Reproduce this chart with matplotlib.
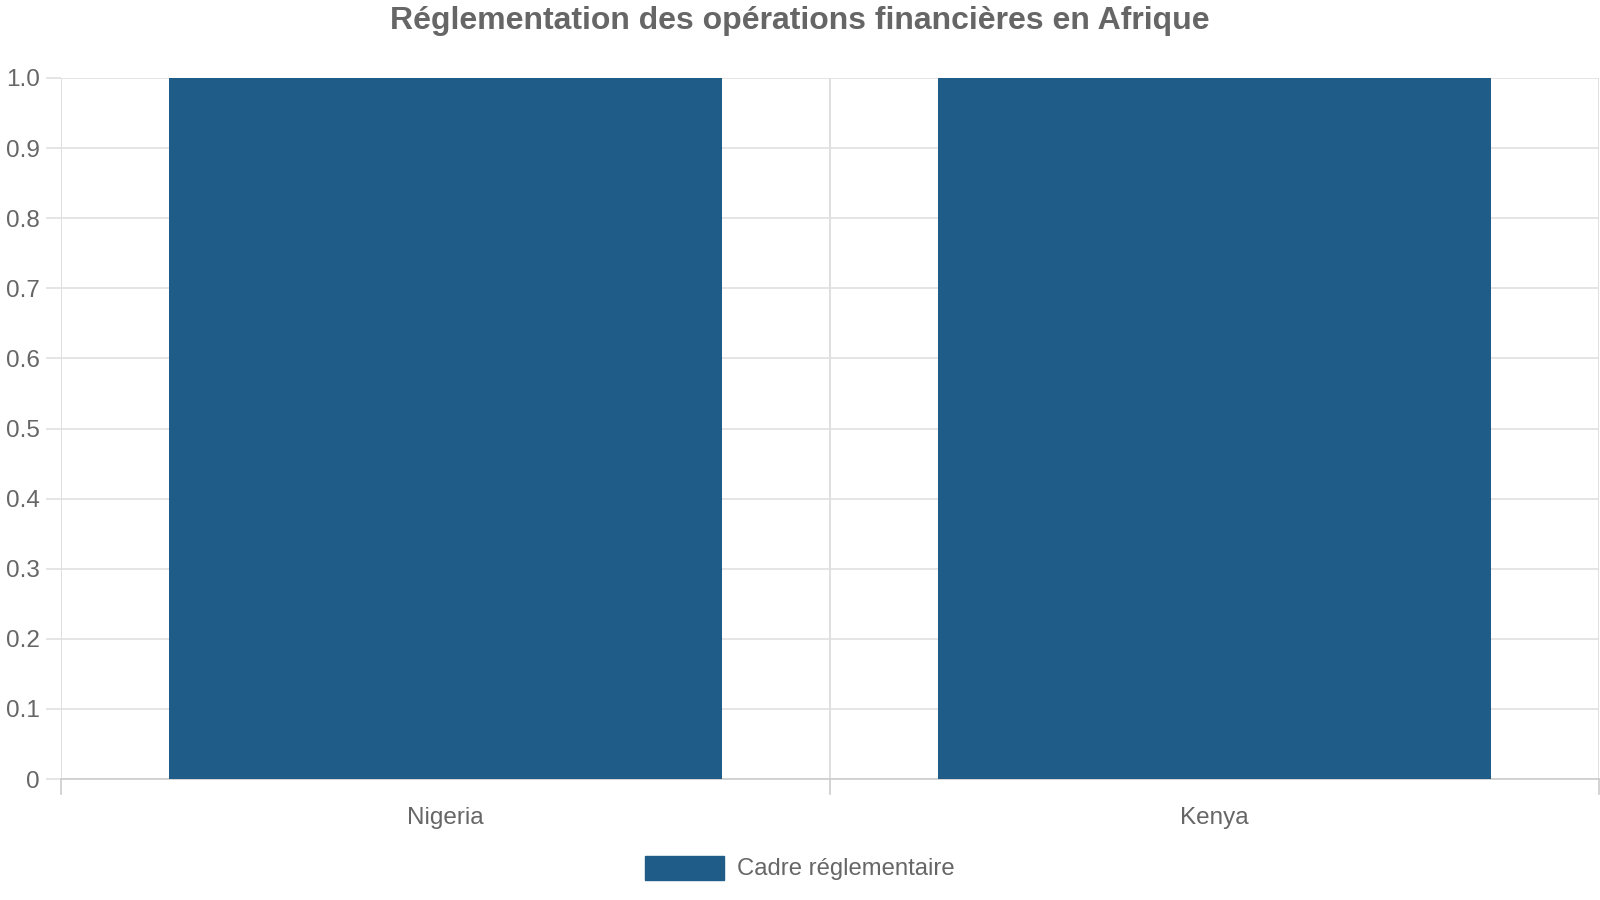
import matplotlib
matplotlib.use('Agg')
import matplotlib.pyplot as plt
import matplotlib.patches as patches

plt.rcParams['font.family'] = ['Liberation Sans', 'DejaVu Sans']

countries = ['Nigeria', 'Kenya']
cadre = [1, 1]
series_name = 'Cadre réglementaire'
title = 'Réglementation des opérations financières en Afrique'

text_col = '#666666'
bar_col = '#1f5c87'

fig = plt.figure(figsize=(16, 9), dpi=100)
ax = fig.add_axes([61 / 1600, 1 - 779 / 900, 1538 / 1600, (779 - 78) / 900])

x = list(range(len(countries)))
ax.bar(x, cadre, width=0.72, color=bar_col, zorder=3)

ax.set_xlim(-0.5, len(countries) - 0.5)
ax.set_ylim(0, 1)
ax.set_yticks([i / 10 for i in range(11)])
ax.set_yticklabels(['0'] + ['%.1f' % (i / 10) for i in range(1, 11)])
ax.yaxis.grid(True, color='#e0e0e0', linewidth=1.2, zorder=0)

# category separators
for b in [i - 0.5 for i in range(len(countries) + 1)]:
    ax.axvline(b, color='#d9d9d9', linewidth=1.2, zorder=1)
ax.set_xticks(x)
ax.set_xticklabels(countries)
ax.tick_params(axis='x', length=0, pad=20.5, labelsize=17.5, labelcolor=text_col)
ax.tick_params(axis='y', length=10.8, color='#e0e0e0', width=1.2, pad=4.5,
               labelsize=17.5, labelcolor=text_col)
# bottom tick marks at separators
for b in [i - 0.5 for i in range(len(countries) + 1)]:
    ax.plot([b, b], [0, -0.022], color='#cccccc', linewidth=1.2,
            clip_on=False, zorder=1)

for s in ['top', 'right', 'left']:
    ax.spines[s].set_visible(False)
ax.spines['bottom'].set_color('#cccccc')
ax.spines['bottom'].set_linewidth(1.2)

fig.text(0.5, 1 - 21 / 900, title, ha='center', va='center',
         fontsize=23, fontweight='bold', color=text_col)

# legend
fig.patches.append(patches.Rectangle((645 / 1600, 1 - 880 / 900), 79 / 1600, 24 / 900,
                                     transform=fig.transFigure, color=bar_col))
fig.text(737 / 1600, 1 - 869 / 900, series_name, ha='left', va='center',
         fontsize=17.2, color=text_col)

fig.savefig('out.png', dpi=100, facecolor='white')
